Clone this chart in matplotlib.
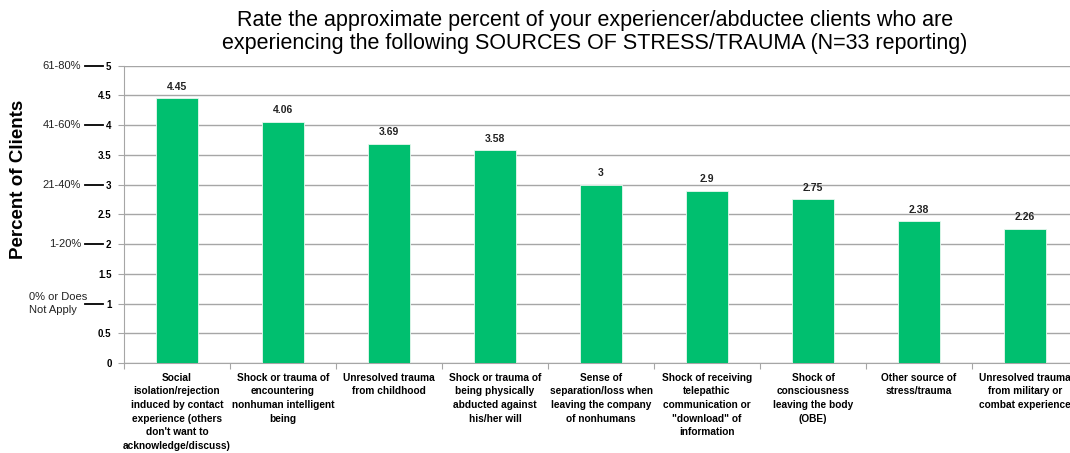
import matplotlib.pyplot as plt
import matplotlib.transforms as mtransforms
import numpy as np

plt.rcParams['font.family'] = ['Liberation Sans', 'DejaVu Sans']

# Categories and mean ratings
categories = [
    "Social\nisolation/rejection\ninduced by contact\nexperience (others\ndon't want to\nacknowledge/discuss)",
    "Shock or trauma of\nencountering\nnonhuman intelligent\nbeing",
    "Unresolved trauma\nfrom childhood",
    "Shock or trauma of\nbeing physically\nabducted against\nhis/her will",
    "Sense of\nseparation/loss when\nleaving the company\nof nonhumans",
    "Shock of receiving\ntelepathic\ncommunication or\n\"download\" of\ninformation",
    "Shock of\nconsciousness\nleaving the body\n(OBE)",
    "Other source of\nstress/trauma",
    "Unresolved trauma\nfrom military or\ncombat experience",
]
values = [4.45, 4.06, 3.69, 3.58, 3, 2.9, 2.75, 2.38, 2.26]
value_labels = ["4.45", "4.06", "3.69", "3.58", "3", "2.9", "2.75", "2.38", "2.26"]

# Scale labels on the left
scale_pos = [5, 4, 3, 2]
scale_text = ["61-80%", "41-60%", "21-40%", "1-20%"]
scale_bottom = "0% or Does\nNot Apply"

fig = plt.figure(figsize=(10.7, 4.53), dpi=100)
ax = fig.add_axes([0.1159, 0.1987, 0.8916, 0.6563])

x = np.arange(len(categories))
ax.bar(x, values, width=0.4, color="#00BF6F", edgecolor="#E8F8EF", linewidth=0.6, zorder=3)

for xi, v, lab in zip(x, values, value_labels):
    ax.text(xi, v + 0.11, lab, ha="center", va="bottom", fontsize=7.5,
            fontweight="bold", color="#222222")

ax.set_xlim(-0.5, len(categories) - 0.5)
ax.set_ylim(0, 5)
ax.set_yticks(np.arange(0, 5.01, 0.5))
ax.set_yticklabels([f"{t:g}" for t in np.arange(0, 5.01, 0.5)], fontsize=7, fontweight="bold")
ax.yaxis.grid(True, color="#A6A6A6", linewidth=1.0, zorder=0)
ax.set_axisbelow(True)

# x ticks between categories, labels at category centers
ax.set_xticks(np.arange(-0.5, len(categories), 1.0))
ax.set_xticklabels([])
ax.set_xticks(x, minor=True)
ax.set_xticklabels(categories, minor=True, fontsize=7.3, fontweight="bold",
                   linespacing=1.45)
ax.tick_params(axis="x", which="minor", length=0, pad=7)
ax.tick_params(axis="x", which="major", length=4, color="#A6A6A6")
ax.tick_params(axis="y", length=4, color="#A6A6A6", pad=5)

for side in ["top", "right"]:
    ax.spines[side].set_visible(False)
ax.spines["left"].set_color("#A6A6A6")
ax.spines["bottom"].set_color("#A6A6A6")

# Left side scale labels with dashes
trans = mtransforms.blended_transform_factory(fig.transFigure, ax.transData)
for p, t in zip(scale_pos, scale_text):
    ax.text(0.0757, p, t, transform=trans, ha="right", va="center", fontsize=8,
            color="#222222", clip_on=False)
for p in scale_pos + [1]:
    ax.plot([0.0794, 0.0963], [p, p], transform=trans, color="black", linewidth=1.3,
            clip_on=False)
ax.text(0.027, 1, scale_bottom, transform=trans, ha="left", va="center", fontsize=8,
        color="#222222", clip_on=False, linespacing=1.3)

fig.text(0.017, 0.605, "Percent of Clients", rotation=90, ha="center", va="center",
         fontsize=13.5, fontweight="bold")

fig.text(0.556, 0.930,
         "Rate the approximate percent of your experiencer/abductee clients who are\n"
         "experiencing the following SOURCES OF STRESS/TRAUMA (N=33 reporting)",
         ha="center", va="center", fontsize=15.5, linespacing=1.15)

fig.savefig("out.png", dpi=100)
